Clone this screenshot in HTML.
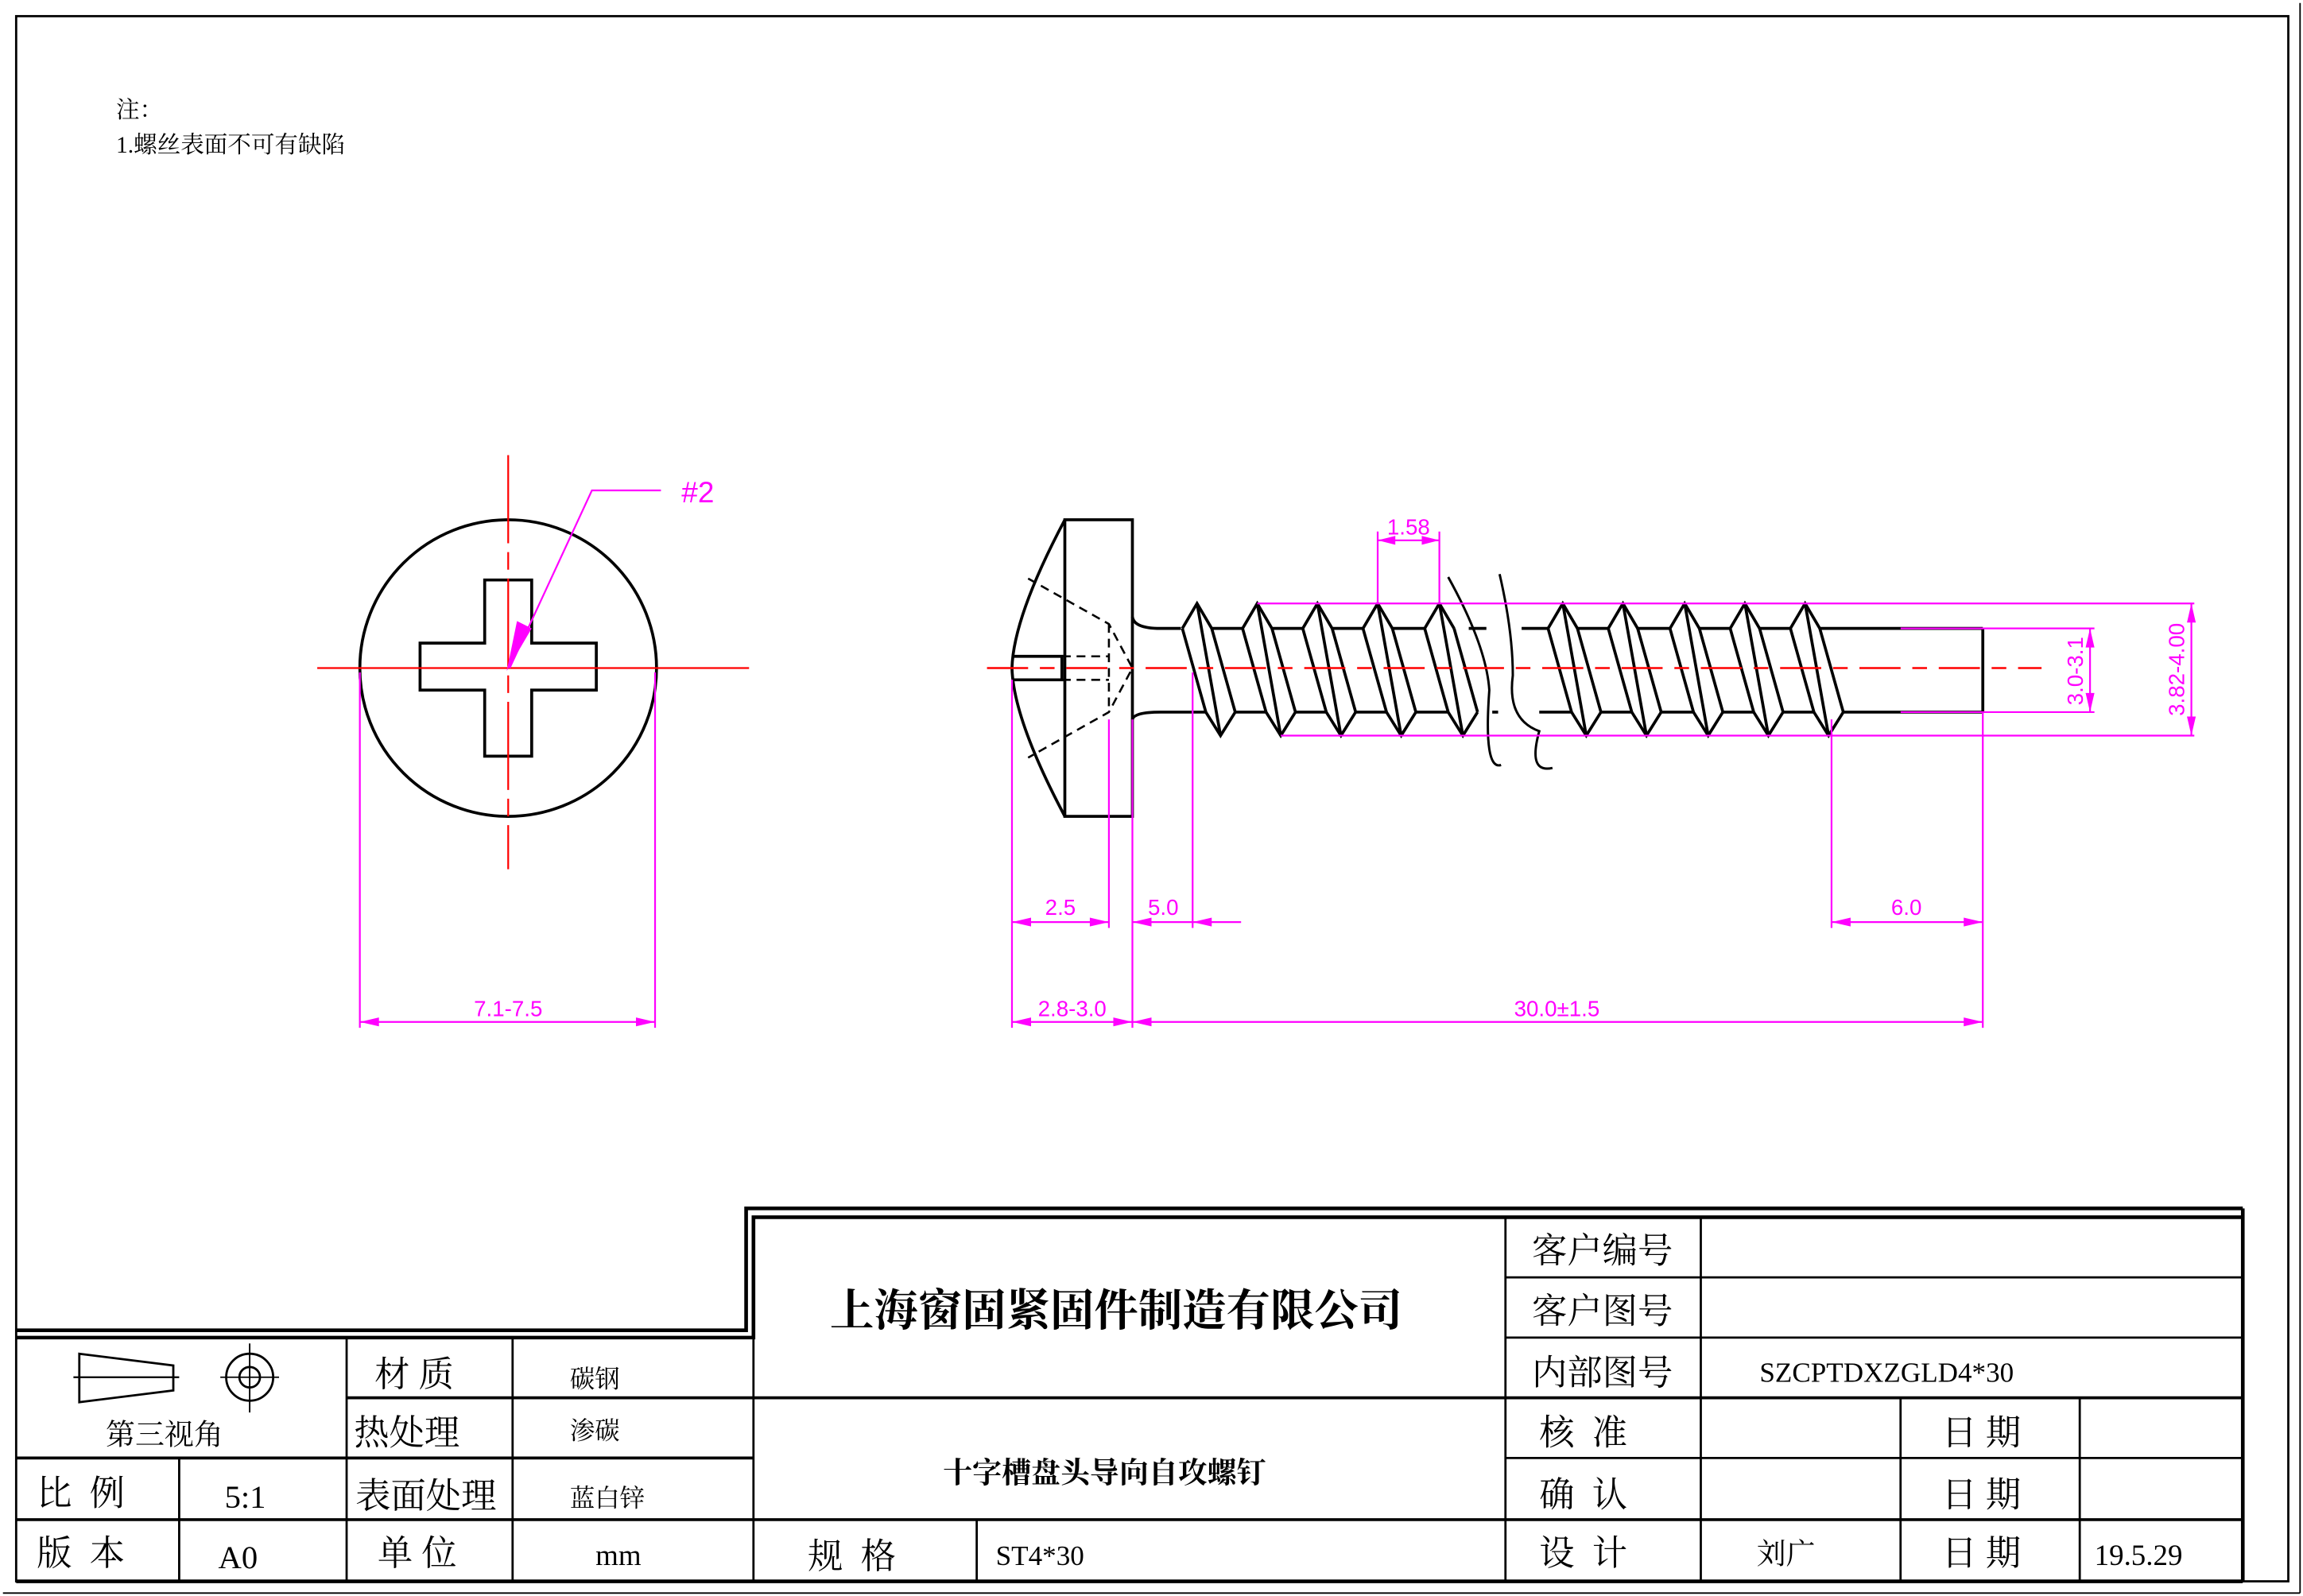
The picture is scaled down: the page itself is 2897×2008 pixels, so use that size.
<!DOCTYPE html>
<html><head><meta charset="utf-8">
<style>
html,body{margin:0;padding:0;background:#fff;}
svg{display:block;}
.cn{font-family:"Liberation Serif","Noto Serif CJK SC",serif;}
.pk{font-family:"Liberation Sans",sans-serif;fill:#ff00ff;}
</style></head><body>
<svg id="s" width="2897" height="2008" viewBox="0 0 1568 1087" preserveAspectRatio="none" xmlns="http://www.w3.org/2000/svg">
<rect width="1568" height="1087" fill="#fff"/>
<rect x="11" y="11" width="1547" height="1066" fill="none" stroke="#000" stroke-width="1.5"/>
<line x1="1566" y1="2" x2="1566" y2="1085" stroke="#000" stroke-width="1"/>
<line x1="2" y1="1085" x2="1566" y2="1085" stroke="#000" stroke-width="1"/>
<text x="79" y="80" font-size="16" class="cn">注：</text>
<text x="79" y="104" font-size="16" class="cn">1.螺丝表面不可有缺陷</text>

<g stroke="#000" fill="none">
<polyline points="11,906 508,906 508,823 1527,823" stroke-width="2.5"/>
<polyline points="11,911 513,911 513,829 1527,829" stroke-width="2.5"/>
<line x1="1527" y1="823" x2="1527" y2="1077" stroke-width="2.5"/>
<line x1="11" y1="1077" x2="1527" y2="1077" stroke-width="2.5"/>
<line x1="513" y1="829" x2="513" y2="1077" stroke-width="1.5"/>
<line x1="236" y1="911" x2="236" y2="1077" stroke-width="1.5"/>
<line x1="349" y1="911" x2="349" y2="1077" stroke-width="1.5"/>
<line x1="122" y1="993" x2="122" y2="1077" stroke-width="1.5"/>
<line x1="236" y1="952" x2="513" y2="952" stroke-width="2"/>
<line x1="11" y1="993" x2="513" y2="993" stroke-width="2"/>
<line x1="11" y1="1035" x2="1527" y2="1035" stroke-width="2"/>
<line x1="513" y1="952" x2="1527" y2="952" stroke-width="2"/>
<line x1="665" y1="1035" x2="665" y2="1077" stroke-width="1.5"/>
<line x1="1025" y1="829" x2="1025" y2="1077" stroke-width="1.5"/>
<line x1="1158" y1="829" x2="1158" y2="1077" stroke-width="1.5"/>
<line x1="1294" y1="952" x2="1294" y2="1077" stroke-width="1.5"/>
<line x1="1416" y1="952" x2="1416" y2="1077" stroke-width="1.5"/>
<line x1="1025" y1="870" x2="1527" y2="870" stroke-width="1.5"/>
<line x1="1025" y1="911" x2="1527" y2="911" stroke-width="1.5"/>
<line x1="1025" y1="993" x2="1527" y2="993" stroke-width="1.5"/>
<polygon points="54,922 118,930 118,947 54,955" stroke-width="1.5"/>
<line x1="50" y1="938" x2="122" y2="938" stroke-width="1.2"/>
<circle cx="170" cy="938" r="16" stroke-width="1.5"/>
<circle cx="170" cy="938" r="7" stroke-width="1.5"/>
<line x1="150" y1="938" x2="190" y2="938" stroke-width="1"/>
<line x1="170" y1="915" x2="170" y2="962" stroke-width="1"/>
</g>
<g class="cn" font-size="24" fill="#000">
<text x="112" y="984" font-size="20" text-anchor="middle">第三视角</text>
<text x="255" y="944">材 质</text>
<text x="388" y="945" font-size="17">碳钢</text>
<text x="241" y="984">热处理</text>
<text x="388" y="980" font-size="17">渗碳</text>
<text x="25" y="1025">比 &#160;例</text>
<text x="167" y="1027" text-anchor="middle" font-size="22">5:1</text>
<text x="242" y="1027">表面处理</text>
<text x="388" y="1026" font-size="17">蓝白锌</text>
<text x="25" y="1066">版 &#160;本</text>
<text x="162" y="1068" text-anchor="middle" font-size="22">A0</text>
<text x="257" y="1066">单 位</text>
<text x="421" y="1066" text-anchor="middle" font-size="20">mm</text>
<text x="550" y="1068">规 &#160;格</text>
<text x="678" y="1066" font-size="19">ST4*30</text>
<text x="760" y="903" text-anchor="middle" font-size="30" font-weight="bold">上海窗固紧固件制造有限公司</text>
<text x="752" y="1010" text-anchor="middle" font-size="20" font-weight="bold">十字槽盘头导向自攻螺钉</text>
<text x="1043" y="860">客户编号</text>
<text x="1043" y="901">客户图号</text>
<text x="1043" y="943">内部图号</text>
<text x="1198" y="941" font-size="19">SZCPTDXZGLD4*30</text>
<text x="1048" y="984">核 &#160;准</text>
<text x="1048" y="1026">确 &#160;认</text>
<text x="1048" y="1066">设 &#160;计</text>
<text x="1322" y="984">日 期</text>
<text x="1322" y="1026">日 期</text>
<text x="1322" y="1066">日 期</text>
<text x="1196" y="1065" font-size="20">刘广</text>
<text x="1426" y="1066" font-size="20">19.5.29</text>
</g>

<g stroke="#000" fill="none" stroke-width="2">
<circle cx="346" cy="455" r="101"/>
<polygon points="330,395 362,395 362,438 406,438 406,470 362,470 362,515 330,515 330,470 286,470 286,438 330,438"/>
</g>
<g stroke="#ff0000" stroke-width="1.2">
<line x1="216" y1="455" x2="510" y2="455"/>
<line x1="346" y1="310" x2="346" y2="592" stroke-dasharray="60,6,12,6"/>
</g>
<g stroke="#ff00ff" stroke-width="1.2" fill="none">
<polyline points="347,455 403,334 450,334"/>
<line x1="245" y1="458" x2="245" y2="700"/>
<line x1="446" y1="458" x2="446" y2="700"/>
<line x1="245" y1="696" x2="446" y2="696"/>
</g>
<polygon points="345,457 352,423 362,428" fill="#ff00ff"/>
<polygon points="245,696 258,693 258,699" fill="#ff00ff"/>
<polygon points="446,696 433,693 433,699" fill="#ff00ff"/>
<text x="464" y="342" font-size="20" class="pk">#2</text>
<text x="346" y="692" font-size="15" class="pk" text-anchor="middle">7.1-7.5</text>

<g id="scr" stroke="#000" fill="none" stroke-width="2">
<path d="M725,354 Q690,420 689,455 Q690,490 725,556"/>
<rect x="725" y="354" width="46" height="202"/>
<polyline points="689,447 723,447 723,463 689,463"/>
<path d="M771,420 Q772,428 790,428 L804,428"/>
<path d="M771,490 Q772,485 790,485 L821,485"/>
<g stroke-dasharray="6,4" stroke-width="1.4">
<polyline points="700,394 755,425 771,455 755,485 700,516"/>
<line x1="755" y1="425" x2="755" y2="485"/>
<line x1="723" y1="447" x2="755" y2="447"/>
<line x1="723" y1="463" x2="755" y2="463"/>
</g>
<path d="M986,393 Q1012,440 1014,470 Q1010,525 1022,521" stroke-width="1.6"/>
<path d="M1021,391 Q1030,430 1030,460 Q1026,490 1048,498 Q1040,527 1057,523" stroke-width="1.6"/>
<line x1="1239" y1="428" x2="1350" y2="428"/>
<line x1="1255" y1="485" x2="1350" y2="485"/>
<line x1="1350" y1="428" x2="1350" y2="485"/>
</g>
<line x1="672" y1="455" x2="1390" y2="455" stroke="#ff0000" stroke-width="1.4" stroke-dasharray="28,8,10,8"/>
<g stroke="#ff00ff" stroke-width="1.2" fill="none">
<line x1="856" y1="411" x2="1494" y2="411"/>
<line x1="872" y1="501" x2="1494" y2="501"/>
<line x1="1294" y1="428" x2="1426" y2="428"/>
<line x1="1294" y1="485" x2="1426" y2="485"/>
<line x1="1423" y1="428" x2="1423" y2="485"/>
<line x1="1492" y1="411" x2="1492" y2="501"/>
<line x1="938" y1="362" x2="938" y2="411"/>
<line x1="980" y1="362" x2="980" y2="411"/>
<line x1="938" y1="368" x2="980" y2="368"/>
<line x1="689" y1="463" x2="689" y2="700"/>
<line x1="755" y1="490" x2="755" y2="632"/>
<line x1="771" y1="490" x2="771" y2="700"/>
<line x1="812" y1="458" x2="812" y2="632"/>
<line x1="1247" y1="490" x2="1247" y2="632"/>
<line x1="1350" y1="485" x2="1350" y2="700"/>
<line x1="689" y1="628" x2="755" y2="628"/>
<line x1="771" y1="628" x2="845" y2="628"/>
<line x1="1247" y1="628" x2="1350" y2="628"/>
<line x1="689" y1="696" x2="1350" y2="696"/>
</g>
<g fill="#ff00ff">
<polygon points="938,368 950,365 950,371"/><polygon points="980,368 968,365 968,371"/>
<polygon points="1423,428 1420,441 1426,441"/><polygon points="1423,485 1420,472 1426,472"/>
<polygon points="1492,411 1489,424 1495,424"/><polygon points="1492,501 1489,488 1495,488"/>
<polygon points="689,628 702,625 702,631"/><polygon points="755,628 742,625 742,631"/>
<polygon points="771,628 784,625 784,631"/><polygon points="812,628 825,625 825,631"/>
<polygon points="1247,628 1260,625 1260,631"/><polygon points="1350,628 1337,625 1337,631"/>
<polygon points="689,696 702,693 702,699"/><polygon points="771,696 758,693 758,699"/>
<polygon points="771,696 784,693 784,699"/><polygon points="1350,696 1337,693 1337,699"/>
</g>
<g class="pk" font-size="15">
<text x="959" y="364" text-anchor="middle">1.58</text>
<text x="722" y="623" text-anchor="middle">2.5</text>
<text x="792" y="623" text-anchor="middle">5.0</text>
<text x="1298" y="623" text-anchor="middle">6.0</text>
<text x="730" y="692" text-anchor="middle">2.8-3.0</text>
<text x="1060" y="692" text-anchor="middle">30.0±1.5</text>
<text transform="translate(1418,457) rotate(-90)" text-anchor="middle">3.0-3.1</text>
<text transform="translate(1487,456) rotate(-90)" text-anchor="middle">3.82-4.00</text>
</g>
</svg>
<script>
(function(){
var g=document.getElementById('scr'),ns='http://www.w3.org/2000/svg';
var xs=[815,856,897,938,980,1064,1105,1147,1188,1229];
function pl(p){var e=document.createElementNS(ns,'polyline');e.setAttribute('points',p);g.appendChild(e);}
xs.forEach(function(x,i){
 pl((x-10)+',428 '+x+',411 '+(x+10)+',428');
 pl((x+6)+',485 '+(x+16)+',501 '+(x+26)+',485');
 pl((x-10)+',428 '+(x+6)+',485');
 pl(x+',411 '+(x+16)+',501');
 pl((x+10)+',428 '+(x+26)+',485');
 var nx=xs[i+1];
 if(nx && nx-x<50){pl((x+10)+',428 '+(nx-10)+',428');pl((x+26)+',485 '+(nx+6)+',485');}
});
pl('1000,428 1012,428');pl('1016,485 1020,485');
pl('1036,428 1054,428');pl('1048,485 1070,485');
})();
</script>
</body></html>
